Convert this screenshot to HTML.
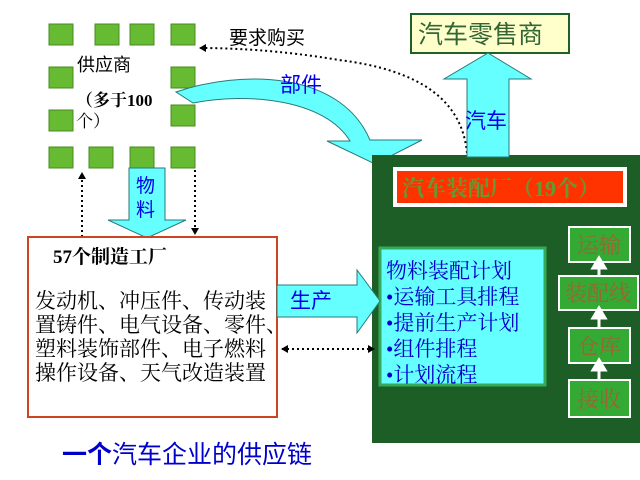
<!DOCTYPE html>
<html><head><meta charset="utf-8"><style>
body{margin:0;background:#fff;}
svg{display:block;}
text{font-family:"Liberation Serif","Noto Serif CJK SC","Noto Sans CJK SC",serif;}
.s{font-family:"Liberation Sans","Noto Sans CJK SC",sans-serif;}
</style></head><body>
<svg width="640" height="480" viewBox="0 0 640 480" xmlns="http://www.w3.org/2000/svg">
<defs>
<marker id="ah" markerWidth="8" markerHeight="8" refX="6" refY="4" orient="auto" markerUnits="userSpaceOnUse"><path d="M0,0 L7,4 L0,8 z" fill="#000"/></marker>
<marker id="ahs" markerWidth="8" markerHeight="8" refX="1" refY="4" orient="auto" markerUnits="userSpaceOnUse"><path d="M7,0 L0,4 L7,8 z" fill="#000"/></marker>
</defs>
<g fill="#66bb33" stroke="#4a8a22" stroke-width="1">
<rect x="49" y="24" width="24" height="21"/><rect x="95" y="24" width="24" height="21"/><rect x="130" y="24" width="24" height="21"/><rect x="171" y="24" width="24" height="21"/>
<rect x="49" y="67" width="24" height="21"/><rect x="171" y="67" width="24" height="21"/>
<rect x="49" y="110" width="24" height="21"/><rect x="171" y="105" width="24" height="21"/>
<rect x="49" y="147" width="24" height="21"/><rect x="89" y="147" width="24" height="21"/><rect x="130" y="147" width="24" height="21"/><rect x="171" y="147" width="24" height="21"/>
</g>
<text x="77" y="71" font-size="18" class="s">供应商</text>
<text x="76" y="106" font-size="17" font-weight="bold">（多于100</text>
<text x="76" y="127" font-size="17">个）</text>
<text x="229" y="44" font-size="19" class="s">要求购买</text>
<path d="M467,153 C462,100 420,70 339,60 C280,50 230,48 200,48" fill="none" stroke="#000" stroke-width="2" stroke-dasharray="2,3" marker-end="url(#ah)"/>
<path d="M176,92 C240,70 340,70 370,140 L422,140 L375,164 L327,141 L350,141 C325,100 250,92 193,103 Z" fill="#66ffff" stroke="#2a7a7a" stroke-width="1"/>
<text x="280" y="92" font-size="21" fill="#0000ee" class="s">部件</text>
<rect x="411" y="14" width="158" height="39" fill="#ffffcc" stroke="#1f5f28" stroke-width="2"/>
<text x="418" y="43" font-size="25" fill="#336633" class="s">汽车零售商</text>
<rect x="372" y="155" width="268" height="288" fill="#1d5e26"/>
<path d="M467,157 L467,79 L444,79 L488,53 L531,79 L509,79 L509,157 Z" fill="#66ffff" stroke="#2a7a7a" stroke-width="1"/>
<text x="465" y="128" font-size="21" fill="#0000ee" class="s">汽车</text>
<rect x="393" y="167" width="234" height="40" fill="#fff"/>
<rect x="397" y="171" width="226" height="32" fill="#ff3300"/>
<text x="402" y="196" font-size="22" fill="#669933" font-weight="bold">汽车装配厂（19个）</text>
<rect x="380" y="248" width="165" height="137" fill="#66ffff" stroke="#33aa55" stroke-width="3"/>
<g font-size="21" fill="#0000cc" class="s">
<text x="386" y="278">物料装配计划</text>
<text x="386" y="304">•运输工具排程</text>
<text x="386" y="330">•提前生产计划</text>
<text x="386" y="356">•组件排程</text>
<text x="386" y="382">•计划流程</text>
</g>
<g fill="#33aa33" stroke="#fff" stroke-width="2">
<rect x="569" y="227" width="61" height="35"/>
<rect x="559" y="276" width="79" height="34"/>
<rect x="569" y="328" width="61" height="35"/>
<rect x="569" y="380" width="61" height="37"/>
</g>
<g stroke="#fff" stroke-width="3" fill="#fff">
<line x1="599" y1="276" x2="599" y2="266"/><path d="M593,268 L599,258 L605,268 Z"/>
<line x1="599" y1="328" x2="599" y2="316"/><path d="M593,318 L599,308 L605,318 Z"/>
<line x1="599" y1="380" x2="599" y2="368"/><path d="M593,370 L599,360 L605,370 Z"/>
</g>
<g font-size="22" fill="#996633" class="s" text-anchor="middle">
<text x="599" y="253">运输</text>
<text x="598" y="301">装配线</text>
<text x="599" y="354">仓库</text>
<text x="599" y="407">接收</text>
</g>
<path d="M129,168 L165,168 L165,220 L186,220 L147,238 L108,220 L129,220 Z" fill="#66ffff" stroke="#2a7a7a" stroke-width="1"/>
<text x="136" y="192" font-size="19" fill="#0000ee" class="s">物</text>
<text x="136" y="216" font-size="19" fill="#0000ee" class="s">料</text>
<line x1="82" y1="237" x2="82" y2="173" stroke="#000" stroke-width="2" stroke-dasharray="2,3" marker-end="url(#ah)"/>
<line x1="195" y1="170" x2="195" y2="234" stroke="#000" stroke-width="2" stroke-dasharray="2,3" marker-end="url(#ah)"/>
<rect x="28" y="237" width="249" height="180" fill="#fff" stroke="#cc4422" stroke-width="2"/>
<text x="53" y="263" font-size="19" font-weight="bold">57个制造工厂</text>
<g font-size="21">
<text x="35" y="308">发动机、冲压件、传动装</text>
<text x="35" y="332">置铸件、电气设备、零件、</text>
<text x="35" y="356">塑料装饰部件、电子燃料</text>
<text x="35" y="380">操作设备、天气改造装置</text>
</g>
<path d="M277,285 L357,285 L357,270 L380,301 L357,333 L357,317 L277,317 Z" fill="#66ffff" stroke="#2a7a7a" stroke-width="1"/>
<text x="290" y="308" font-size="21" fill="#0000ee" class="s">生产</text>
<line x1="282" y1="349" x2="374" y2="349" stroke="#000" stroke-width="2" stroke-dasharray="2,3" marker-start="url(#ahs)" marker-end="url(#ah)"/>
<text x="62" y="463" font-size="25" fill="#0000cc" class="s"><tspan font-weight="bold">一个</tspan>汽车企业的供应链</text>
</svg>
</body></html>
